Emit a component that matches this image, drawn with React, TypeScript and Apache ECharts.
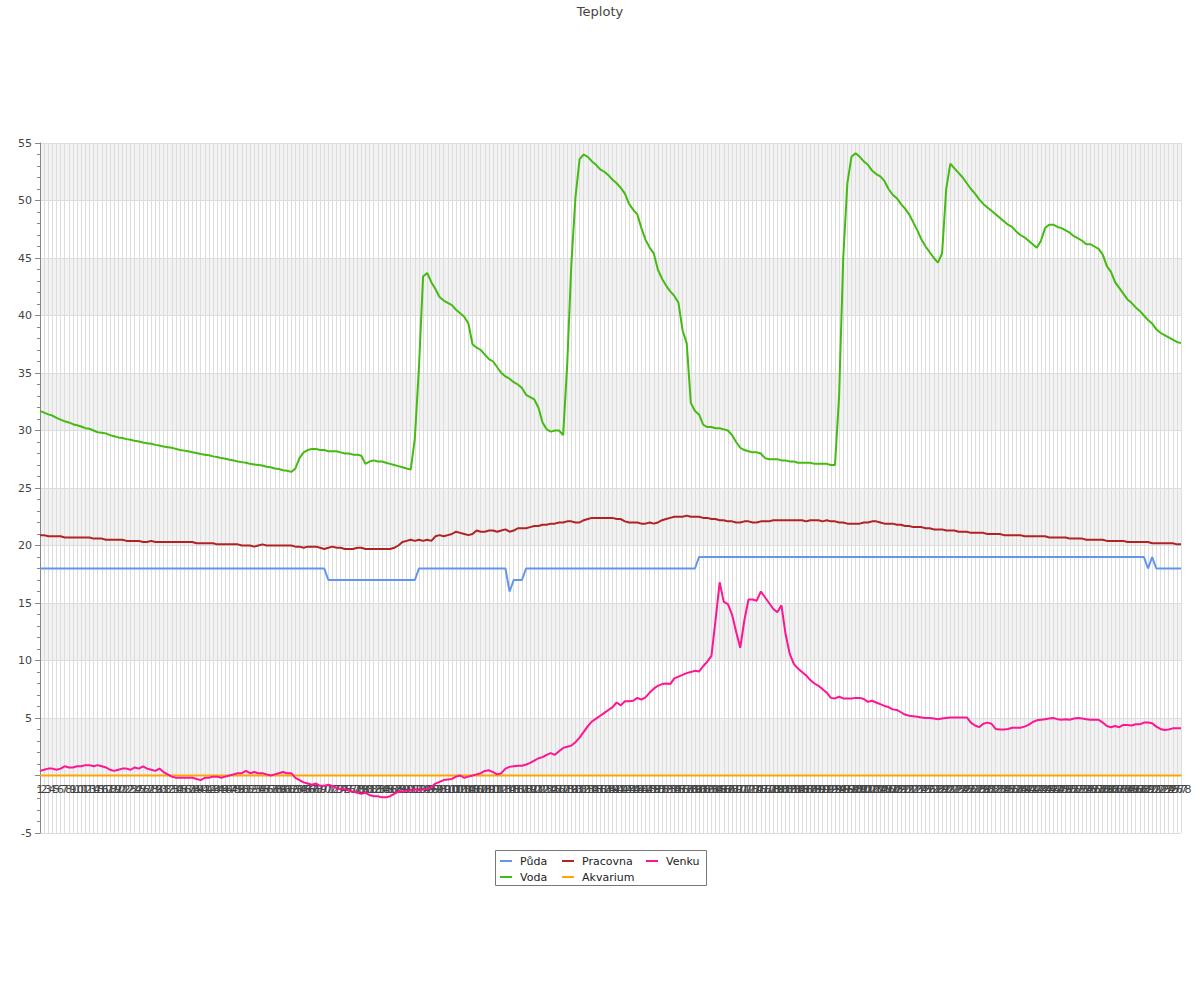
import React, { useEffect, useRef } from "react";
import * as echarts from "echarts";

const categories: string[] = [
  1, 2, 3, 4, 5, 6, 7, 8, 9, 10, 11, 12, 13, 14, 15, 16, 17, 18, 19, 20,
  21, 22, 23, 24, 25, 26, 27, 28, 29, 30, 31, 32, 33, 34, 35, 36, 37, 38, 39, 40,
  41, 42, 43, 44, 45, 46, 47, 48, 49, 50, 51, 52, 53, 54, 55, 56, 57, 58, 59, 60,
  61, 62, 63, 64, 65, 66, 67, 68, 69, 70, 71, 72, 73, 74, 75, 76, 77, 78, 79, 80,
  81, 82, 83, 84, 85, 86, 87, 88, 89, 90, 91, 92, 93, 94, 95, 96, 97, 98, 99, 100,
  101, 102, 103, 104, 105, 106, 107, 108, 109, 110, 111, 112, 113, 114, 115, 116, 117, 118, 119, 120,
  121, 122, 123, 124, 125, 126, 127, 128, 129, 130, 131, 132, 133, 134, 135, 136, 137, 138, 139, 140,
  141, 142, 143, 144, 145, 146, 147, 148, 149, 150, 151, 152, 153, 154, 155, 156, 157, 158, 159, 160,
  161, 162, 163, 164, 165, 166, 167, 168, 169, 170, 171, 172, 173, 174, 175, 176, 177, 178, 179, 180,
  181, 182, 183, 184, 185, 186, 187, 188, 189, 190, 191, 192, 193, 194, 195, 196, 197, 198, 199, 200,
  201, 202, 203, 204, 205, 206, 207, 208, 209, 210, 211, 212, 213, 214, 215, 216, 217, 218, 219, 220,
  221, 222, 223, 224, 225, 226, 227, 228, 229, 230, 231, 232, 233, 234, 235, 236, 237, 238, 239, 240,
  241, 242, 243, 244, 245, 246, 247, 248, 249, 250, 251, 252, 253, 254, 255, 256, 257, 258, 259, 260,
  261, 262, 263, 264, 265, 266, 267, 268, 269, 270, 271, 272, 273, 274, 275, 276, 277, 278,
].map(String);

const puda: number[] = [
  18, 18, 18, 18, 18, 18, 18, 18, 18, 18,
  18, 18, 18, 18, 18, 18, 18, 18, 18, 18,
  18, 18, 18, 18, 18, 18, 18, 18, 18, 18,
  18, 18, 18, 18, 18, 18, 18, 18, 18, 18,
  18, 18, 18, 18, 18, 18, 18, 18, 18, 18,
  18, 18, 18, 18, 18, 18, 18, 18, 18, 18,
  18, 18, 18, 18, 18, 18, 18, 18, 18, 18,
  17, 17, 17, 17, 17, 17, 17, 17, 17, 17,
  17, 17, 17, 17, 17, 17, 17, 17, 17, 17,
  17, 17, 18, 18, 18, 18, 18, 18, 18, 18,
  18, 18, 18, 18, 18, 18, 18, 18, 18, 18,
  18, 18, 18, 18, 16, 17, 17, 17, 18, 18,
  18, 18, 18, 18, 18, 18, 18, 18, 18, 18,
  18, 18, 18, 18, 18, 18, 18, 18, 18, 18,
  18, 18, 18, 18, 18, 18, 18, 18, 18, 18,
  18, 18, 18, 18, 18, 18, 18, 18, 18, 18,
  19, 19, 19, 19, 19, 19, 19, 19, 19, 19,
  19, 19, 19, 19, 19, 19, 19, 19, 19, 19,
  19, 19, 19, 19, 19, 19, 19, 19, 19, 19,
  19, 19, 19, 19, 19, 19, 19, 19, 19, 19,
  19, 19, 19, 19, 19, 19, 19, 19, 19, 19,
  19, 19, 19, 19, 19, 19, 19, 19, 19, 19,
  19, 19, 19, 19, 19, 19, 19, 19, 19, 19,
  19, 19, 19, 19, 19, 19, 19, 19, 19, 19,
  19, 19, 19, 19, 19, 19, 19, 19, 19, 19,
  19, 19, 19, 19, 19, 19, 19, 19, 19, 19,
  19, 19, 19, 19, 19, 19, 19, 19, 19, 18,
  19, 18, 18, 18, 18, 18, 18, 18,
];

const voda: number[] = [
  31.7, 31.55, 31.4, 31.3, 31.1, 30.95, 30.8, 30.7, 30.55, 30.45,
  30.35, 30.2, 30.15, 30.0, 29.85, 29.8, 29.75, 29.6, 29.5, 29.4,
  29.35, 29.25, 29.2, 29.1, 29.05, 28.95, 28.9, 28.85, 28.75, 28.7,
  28.6, 28.55, 28.5, 28.4, 28.3, 28.25, 28.2, 28.1, 28.05, 27.95,
  27.9, 27.85, 27.75, 27.7, 27.6, 27.55, 27.45, 27.4, 27.3, 27.25,
  27.2, 27.1, 27.05, 27.0, 26.95, 26.85, 26.8, 26.7, 26.65, 26.55,
  26.5, 26.4, 26.7, 27.6, 28.1, 28.3, 28.4, 28.4, 28.3, 28.3,
  28.2, 28.2, 28.2, 28.1, 28.0, 28.0, 27.9, 27.9, 27.8, 27.1,
  27.3, 27.4, 27.3, 27.3, 27.2, 27.1, 27.0, 26.9, 26.8, 26.7,
  26.6, 29.3, 35.5, 43.4, 43.7, 42.9, 42.3, 41.6, 41.3, 41.1,
  40.9, 40.5, 40.2, 39.9, 39.3, 37.5, 37.2, 37.0, 36.6, 36.2,
  36.0, 35.5, 35.0, 34.7, 34.5, 34.2, 34.0, 33.7, 33.1, 32.9,
  32.7, 32.0, 30.7, 30.1, 29.9, 30.0, 30.0, 29.6, 35.8, 44.5,
  50.3, 53.6, 54.0, 53.8, 53.4, 53.1, 52.7, 52.5, 52.2, 51.8,
  51.5, 51.1, 50.6, 49.7, 49.2, 48.8, 47.6, 46.6, 45.9, 45.4,
  44.0, 43.2, 42.6, 42.1, 41.7, 41.1, 38.7, 37.6, 32.4, 31.7,
  31.4, 30.5, 30.3, 30.3, 30.2, 30.2, 30.1, 30.0, 29.6, 29.0,
  28.5, 28.3, 28.2, 28.1, 28.1, 28.0, 27.6, 27.5, 27.5, 27.5,
  27.4, 27.4, 27.3, 27.3, 27.2, 27.2, 27.2, 27.2, 27.1, 27.1,
  27.1, 27.1, 27.0, 27.0, 33.0, 45.0, 51.5, 53.8, 54.1, 53.8,
  53.4, 53.1, 52.6, 52.3, 52.1, 51.7, 51.0, 50.5, 50.2, 49.7,
  49.3, 48.8, 48.1, 47.4, 46.6, 46.0, 45.5, 45.0, 44.6, 45.4,
  51.0, 53.2, 52.8, 52.4, 52.0, 51.5, 51.0, 50.6, 50.1, 49.7,
  49.4, 49.1, 48.8, 48.5, 48.2, 47.9, 47.7, 47.3, 47.0, 46.8,
  46.5, 46.2, 45.9, 46.5, 47.6, 47.9, 47.9, 47.7, 47.6, 47.4,
  47.2, 46.9, 46.7, 46.5, 46.2, 46.2, 46.0, 45.8, 45.3, 44.3,
  43.8, 42.9, 42.4, 41.9, 41.4, 41.1, 40.7, 40.4, 40.0, 39.6,
  39.3, 38.8, 38.5, 38.3, 38.1, 37.9, 37.7, 37.6,
];

const pracovna: number[] = [
  20.9, 20.9, 20.8, 20.8, 20.8, 20.8, 20.7, 20.7, 20.7, 20.7,
  20.7, 20.7, 20.7, 20.6, 20.6, 20.6, 20.5, 20.5, 20.5, 20.5,
  20.5, 20.4, 20.4, 20.4, 20.4, 20.3, 20.3, 20.4, 20.3, 20.3,
  20.3, 20.3, 20.3, 20.3, 20.3, 20.3, 20.3, 20.3, 20.2, 20.2,
  20.2, 20.2, 20.2, 20.1, 20.1, 20.1, 20.1, 20.1, 20.1, 20.0,
  20.0, 20.0, 19.9, 20.0, 20.1, 20.0, 20.0, 20.0, 20.0, 20.0,
  20.0, 20.0, 19.9, 19.9, 19.8, 19.9, 19.9, 19.9, 19.8, 19.7,
  19.8, 19.9, 19.8, 19.8, 19.7, 19.7, 19.7, 19.8, 19.8, 19.7,
  19.7, 19.7, 19.7, 19.7, 19.7, 19.7, 19.8, 20.0, 20.3, 20.4,
  20.5, 20.4, 20.5, 20.4, 20.5, 20.4, 20.8, 20.9, 20.8, 20.9,
  21.0, 21.2, 21.1, 21.0, 20.9, 21.0, 21.3, 21.2, 21.2, 21.3,
  21.3, 21.2, 21.3, 21.4, 21.2, 21.3, 21.5, 21.5, 21.5, 21.6,
  21.7, 21.7, 21.8, 21.8, 21.9, 21.9, 22.0, 22.0, 22.1, 22.1,
  22.0, 22.0, 22.2, 22.3, 22.4, 22.4, 22.4, 22.4, 22.4, 22.4,
  22.3, 22.3, 22.1, 22.0, 22.0, 22.0, 21.9, 21.9, 22.0, 21.9,
  22.0, 22.2, 22.3, 22.4, 22.5, 22.5, 22.5, 22.6, 22.5, 22.5,
  22.5, 22.4, 22.4, 22.3, 22.3, 22.2, 22.2, 22.1, 22.1, 22.0,
  22.0, 22.1, 22.1, 22.0, 22.0, 22.1, 22.1, 22.1, 22.2, 22.2,
  22.2, 22.2, 22.2, 22.2, 22.2, 22.2, 22.1, 22.2, 22.2, 22.2,
  22.1, 22.2, 22.1, 22.1, 22.0, 22.0, 21.9, 21.9, 21.9, 21.9,
  22.0, 22.0, 22.1, 22.1, 22.0, 21.9, 21.9, 21.9, 21.8, 21.8,
  21.7, 21.7, 21.6, 21.6, 21.6, 21.5, 21.5, 21.4, 21.4, 21.4,
  21.3, 21.3, 21.3, 21.2, 21.2, 21.2, 21.1, 21.1, 21.1, 21.1,
  21.0, 21.0, 21.0, 21.0, 20.9, 20.9, 20.9, 20.9, 20.9, 20.8,
  20.8, 20.8, 20.8, 20.8, 20.8, 20.7, 20.7, 20.7, 20.7, 20.7,
  20.6, 20.6, 20.6, 20.6, 20.5, 20.5, 20.5, 20.5, 20.5, 20.4,
  20.4, 20.4, 20.4, 20.4, 20.3, 20.3, 20.3, 20.3, 20.3, 20.3,
  20.2, 20.2, 20.2, 20.2, 20.2, 20.2, 20.1, 20.1,
];

const akvarium: number[] = [
  0, 0, 0, 0, 0, 0, 0, 0, 0, 0, 0, 0, 0, 0, 0, 0, 0, 0, 0, 0,
  0, 0, 0, 0, 0, 0, 0, 0, 0, 0, 0, 0, 0, 0, 0, 0, 0, 0, 0, 0,
  0, 0, 0, 0, 0, 0, 0, 0, 0, 0, 0, 0, 0, 0, 0, 0, 0, 0, 0, 0,
  0, 0, 0, 0, 0, 0, 0, 0, 0, 0, 0, 0, 0, 0, 0, 0, 0, 0, 0, 0,
  0, 0, 0, 0, 0, 0, 0, 0, 0, 0, 0, 0, 0, 0, 0, 0, 0, 0, 0, 0,
  0, 0, 0, 0, 0, 0, 0, 0, 0, 0, 0, 0, 0, 0, 0, 0, 0, 0, 0, 0,
  0, 0, 0, 0, 0, 0, 0, 0, 0, 0, 0, 0, 0, 0, 0, 0, 0, 0, 0, 0,
  0, 0, 0, 0, 0, 0, 0, 0, 0, 0, 0, 0, 0, 0, 0, 0, 0, 0, 0, 0,
  0, 0, 0, 0, 0, 0, 0, 0, 0, 0, 0, 0, 0, 0, 0, 0, 0, 0, 0, 0,
  0, 0, 0, 0, 0, 0, 0, 0, 0, 0, 0, 0, 0, 0, 0, 0, 0, 0, 0, 0,
  0, 0, 0, 0, 0, 0, 0, 0, 0, 0, 0, 0, 0, 0, 0, 0, 0, 0, 0, 0,
  0, 0, 0, 0, 0, 0, 0, 0, 0, 0, 0, 0, 0, 0, 0, 0, 0, 0, 0, 0,
  0, 0, 0, 0, 0, 0, 0, 0, 0, 0, 0, 0, 0, 0, 0, 0, 0, 0, 0, 0,
  0, 0, 0, 0, 0, 0, 0, 0, 0, 0, 0, 0, 0, 0, 0, 0, 0, 0,
];

const venku: number[] = [
  0.4, 0.5, 0.6, 0.6, 0.5, 0.6, 0.8, 0.7, 0.7, 0.8,
  0.8, 0.9, 0.9, 0.8, 0.9, 0.8, 0.7, 0.5, 0.4, 0.5,
  0.6, 0.6, 0.5, 0.7, 0.6, 0.8, 0.6, 0.5, 0.4, 0.6,
  0.3, 0.1, -0.1, -0.2, -0.2, -0.2, -0.2, -0.2, -0.3, -0.4,
  -0.2, -0.2, -0.1, -0.1, -0.2, -0.1, 0.0, 0.1, 0.2, 0.2,
  0.4, 0.2, 0.3, 0.2, 0.2, 0.1, 0.0, 0.1, 0.2, 0.3,
  0.2, 0.2, -0.2, -0.4, -0.6, -0.7, -0.8, -0.7, -0.9, -0.9,
  -0.8, -0.9, -1.1, -1.2, -1.2, -1.3, -1.4, -1.5, -1.6, -1.5,
  -1.7, -1.8, -1.8, -1.9, -1.9, -1.8, -1.6, -1.4, -1.4, -1.3,
  -1.3, -1.2, -1.3, -1.2, -1.2, -1.0, -0.7, -0.55, -0.4, -0.35,
  -0.3, -0.1, 0.0, -0.2, -0.1, 0.0, 0.1, 0.2, 0.4, 0.45,
  0.3, 0.1, 0.2, 0.6, 0.75, 0.8, 0.85, 0.85, 0.95, 1.1,
  1.3, 1.5, 1.6, 1.8, 1.95, 1.8, 2.1, 2.4, 2.5, 2.6,
  2.9, 3.3, 3.8, 4.3, 4.7, 4.95, 5.2, 5.45, 5.7, 5.95,
  6.35, 6.1, 6.45, 6.45, 6.5, 6.75, 6.6, 6.8, 7.2, 7.55,
  7.8, 7.95, 8.0, 7.95, 8.45, 8.6, 8.75, 8.9, 9.0, 9.1,
  9.05, 9.5, 9.9, 10.4, 13.5, 16.8, 15.1, 14.9, 14.0, 12.5,
  11.1, 13.5, 15.3, 15.3, 15.2, 16.0, 15.5, 15.0, 14.5, 14.2,
  14.8, 12.3, 10.6, 9.7, 9.3, 9.0, 8.7, 8.3, 8.0, 7.8,
  7.5, 7.2, 6.75, 6.7, 6.85, 6.7, 6.7, 6.7, 6.75, 6.75,
  6.65, 6.4, 6.5, 6.35, 6.2, 6.05, 5.95, 5.75, 5.7, 5.5,
  5.3, 5.2, 5.15, 5.1, 5.05, 5.0, 5.0, 4.95, 4.9, 4.95,
  5.0, 5.05, 5.05, 5.05, 5.05, 5.05, 4.6, 4.35, 4.2, 4.5,
  4.6, 4.5, 4.05, 4.0, 4.0, 4.05, 4.15, 4.15, 4.15, 4.25,
  4.4, 4.65, 4.8, 4.85, 4.9, 4.95, 5.0, 4.9, 4.85, 4.9,
  4.85, 4.95, 5.0, 4.95, 4.9, 4.85, 4.85, 4.85, 4.6, 4.3,
  4.2, 4.3, 4.2, 4.4, 4.4, 4.35, 4.45, 4.45, 4.6, 4.6,
  4.55, 4.25, 4.05, 3.95, 4.0, 4.1, 4.1, 4.1,
];

const yMin = -5;
const yMax = 55;

export default function App() {
  const ref = useRef<HTMLDivElement>(null);
  useEffect(() => {
    const chart = echarts.init(ref.current!, undefined, { renderer: "svg" });
    const font = "DejaVu Sans";
    const gridTop = 143;
    const gridBottom = 167;
    const plotH = 1000 - gridTop - gridBottom;
    const zeroOffset = (plotH * (0 - yMin)) / (yMax - yMin);
    const legendText = { fontFamily: font, fontSize: 11, color: "#222", padding: [0, 0, 0, 3] };
    const legendCommon = {
      orient: "vertical",
      top: 855.5,
      padding: 0,
      itemWidth: 12,
      itemHeight: 2,
      itemGap: 5,
      icon: "rect",
      textStyle: legendText,
    };
    chart.setOption({
      animation: false,
      title: {
        text: "Teploty",
        left: "center",
        top: 0,
        textStyle: { fontFamily: font, fontSize: 13, fontWeight: "normal", color: "#444" },
      },
      grid: { left: 40, right: 19, top: gridTop, bottom: gridBottom, containLabel: false },
      legend: [
        { ...legendCommon, left: 500, data: ["Půda", "Voda"] },
        { ...legendCommon, left: 562, data: ["Pracovna", "Akvarium"] },
        { ...legendCommon, left: 646, data: ["Venku"] },
      ],
      graphic: [
        {
          type: "rect",
          shape: { x: 495.5, y: 850.5, width: 211, height: 35 },
          style: { fill: "none", stroke: "#777", lineWidth: 1 },
          z: 100,
        },
      ],
      xAxis: {
        type: "category",
        data: categories,
        boundaryGap: false,
        offset: -zeroOffset,
        axisLine: { onZero: false, lineStyle: { color: "#888" } },
        axisTick: { show: false },
        axisLabel: { interval: 0, fontFamily: font, fontSize: 11, color: "#444", margin: 8, hideOverlap: false },
        splitLine: { show: true, interval: 0, lineStyle: { color: "#dddddd" } },
      },
      yAxis: {
        type: "value",
        min: yMin,
        max: yMax,
        interval: 5,
        axisLine: { show: true, lineStyle: { color: "#888" } },
        axisTick: { show: true, length: 5, lineStyle: { color: "#888" } },
        minorTick: { show: true, splitNumber: 5, length: 3, lineStyle: { color: "#888" } },
        axisLabel: {
          fontFamily: font,
          fontSize: 11,
          color: "#444",
          margin: 8,
          formatter: (v: number) => (v === 0 ? "" : String(v)),
        },
        splitLine: { show: true, lineStyle: { color: "#dddddd" } },
        splitArea: { show: true, areaStyle: { color: ["rgba(255,255,255,0)", "#f2f2f2"] } },
      },
      series: [
        { name: "Půda", type: "line", data: puda, color: "#6495ED", showSymbol: false, lineStyle: { width: 2 } },
        { name: "Voda", type: "line", data: voda, color: "#44BB11", showSymbol: false, lineStyle: { width: 2 } },
        { name: "Pracovna", type: "line", data: pracovna, color: "#B22222", showSymbol: false, lineStyle: { width: 2 } },
        { name: "Akvarium", type: "line", data: akvarium, color: "#FFA500", showSymbol: false, lineStyle: { width: 2 } },
        { name: "Venku", type: "line", data: venku, color: "#FF1493", showSymbol: false, lineStyle: { width: 2 } },
      ],
    });
    return () => chart.dispose();
  }, []);
  return <div ref={ref} style={{ position: "absolute", left: 0, top: 0, width: 1200, height: 1000 }} />;
}
